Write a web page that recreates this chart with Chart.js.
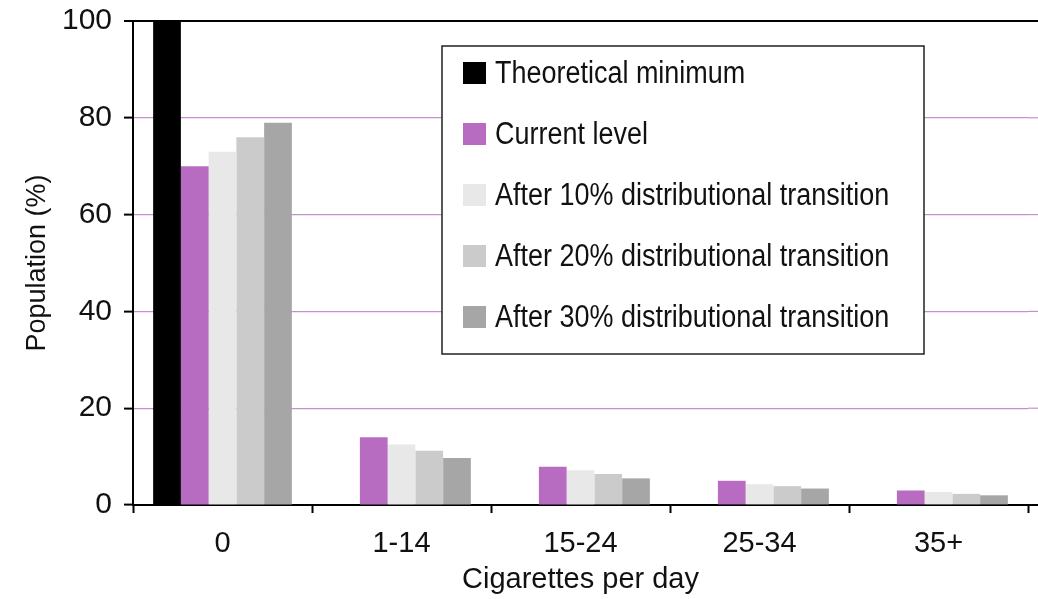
<!DOCTYPE html>
<html>
<head>
<meta charset="utf-8">
<script src="https://cdn.jsdelivr.net/npm/chart.js@4/dist/chart.umd.min.js"></script>
<style>
  html, body { margin: 0; padding: 0; background: #fff; overflow: hidden; }
  #wrap { width: 1038px; height: 599px; position: relative; }
</style>
</head>
<body>
<div id="wrap"><canvas id="chart"></canvas></div>
<script>
const FONT = "'Liberation Sans', Arial, sans-serif";

// data
const categories = ['0', '1-14', '15-24', '25-34', '35+'];
const seriesNames = [
  'Theoretical minimum',
  'Current level',
  'After 10% distributional transition',
  'After 20% distributional transition',
  'After 30% distributional transition'
];
const theoreticalMin = [100, 0, 0, 0, 0];
const currentLevel   = [70, 14, 7.9, 5.0, 3.0];
const after10        = [73, 12.5, 7.2, 4.3, 2.7];
const after20        = [76, 11.2, 6.4, 3.9, 2.3];
const after30        = [79, 9.7, 5.5, 3.4, 2.0];
const seriesColors   = ['#000000', '#b76cc2', '#e8e8e8', '#cbcbcb', '#a6a6a6'];
const yTicks = [0, 20, 40, 60, 80, 100];

const allSeries = [theoreticalMin, currentLevel, after10, after20, after30];

// boxed legend inside the plot; grid lines run on to the right edge
const boxLegend = {
  id: 'boxLegend',
  beforeDatasetsDraw(chart) {
    const { ctx, chartArea, scales } = chart;
    ctx.save();
    yTicks.forEach(v => {
      if (v === 0) return;
      const y = scales.y.getPixelForValue(v);
      ctx.strokeStyle = v === 100 ? '#000' : '#c690cf';
      ctx.lineWidth = v === 100 ? 2 : 1.2;
      ctx.beginPath();
      ctx.moveTo(chartArea.right, y);
      ctx.lineTo(chart.width, y);
      ctx.stroke();
    });
    const yb = scales.y.getPixelForValue(0);
    ctx.strokeStyle = '#000';
    ctx.lineWidth = 2;
    ctx.beginPath();
    ctx.moveTo(chartArea.right, yb);
    ctx.lineTo(chart.width, yb);
    ctx.stroke();
    ctx.restore();
  },
  afterDraw(chart) {
    const { ctx } = chart;
    const x0 = 442, y0 = 46, w = 482, h = 308;
    ctx.save();
    ctx.fillStyle = '#fff';
    ctx.fillRect(x0, y0, w, h);
    ctx.strokeStyle = '#222';
    ctx.lineWidth = 1.5;
    ctx.strokeRect(x0, y0, w, h);
    ctx.font = '31px ' + FONT;
    ctx.textBaseline = 'middle';
    chart.data.datasets.forEach((ds, i) => {
      const cy = 73 + i * 61;
      ctx.fillStyle = ds.backgroundColor;
      ctx.fillRect(463, cy - 11, 23, 22);
      ctx.save();
      ctx.translate(495, cy + 1);
      ctx.scale(0.87, 1);
      ctx.fillStyle = '#111';
      ctx.fillText(ds.label, 0, 0);
      ctx.restore();
    });
    ctx.restore();
  }
};

new Chart(document.getElementById('chart'), {
  type: 'bar',
  data: {
    labels: categories,
    datasets: seriesNames.map((name, i) => ({
      label: name,
      data: allSeries[i],
      backgroundColor: seriesColors[i],
      borderWidth: 0,
      categoryPercentage: 0.775,
      barPercentage: 1.0
    }))
  },
  options: {
    responsive: true,
    maintainAspectRatio: false,
    animation: false,
    layout: { padding: { top: 21, right: 10, left: 0, bottom: 0 } },
    plugins: {
      legend: { display: false },
      tooltip: { enabled: false }
    },
    scales: {
      x: {
        afterFit(scale) { scale.height = 94; },
        grid: {
          offset: true,
          drawOnChartArea: false,
          tickLength: 8,
          tickColor: '#000',
          tickWidth: 2
        },
        border: { color: '#000', width: 2 },
        ticks: { color: '#111', font: { family: FONT, size: 29 }, padding: 14 },
        title: {
          display: true,
          text: 'Cigarettes per day',
          color: '#111',
          font: { family: FONT, size: 29 },
          padding: { top: 0, bottom: 2 }
        }
      },
      y: {
        min: 0,
        max: 100,
        afterFit(scale) {
          scale.width = 133;
          scale.paddingTop = 0;
          scale.paddingBottom = 0;
        },
        afterBuildTicks(scale) { scale.ticks = yTicks.map(v => ({ value: v })); },
        grid: {
          color: c => c.tick.value === 100 ? '#000' : (c.tick.value === 0 ? 'rgba(0,0,0,0)' : '#c690cf'),
          lineWidth: c => c.tick.value === 100 ? 2 : 1.2,
          tickLength: 9,
          tickColor: '#000',
          tickWidth: 2
        },
        border: { color: '#000', width: 2 },
        ticks: { color: '#111', font: { family: FONT, size: 30 }, padding: 12 },
        title: {
          display: true,
          text: 'Population (%)',
          color: '#111',
          font: { family: FONT, size: 27 },
          padding: { top: 21, bottom: 0 }
        }
      }
    }
  },
  plugins: [boxLegend]
});
</script>
</body>
</html>
